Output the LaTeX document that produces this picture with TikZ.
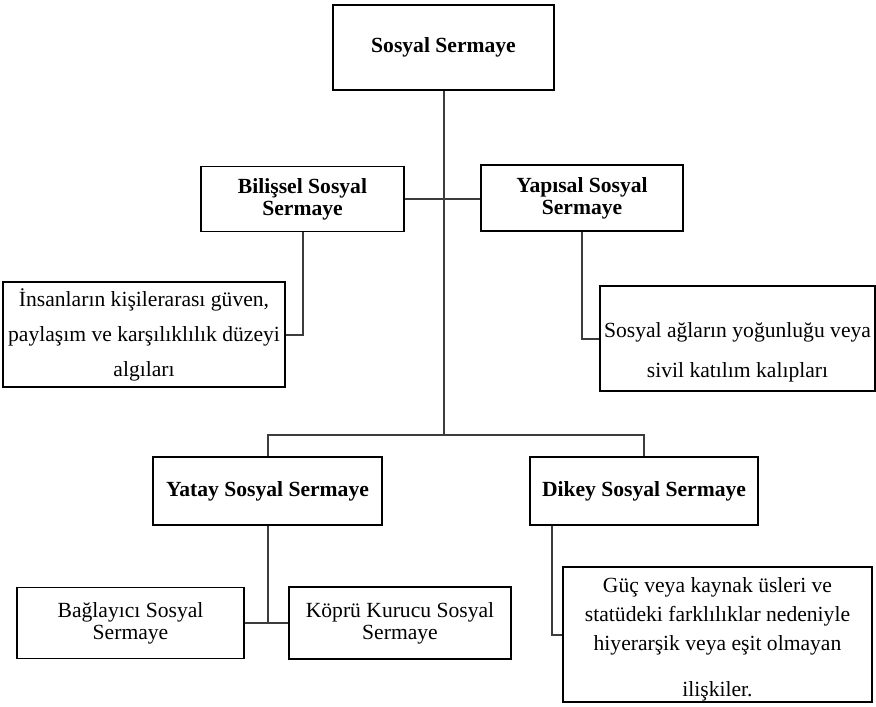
\documentclass[tikz,border=0pt]{standalone}
\usepackage{fontspec}
\setmainfont{Liberation Serif}
\usepackage{tikz}
\definecolor{linegray}{RGB}{60,60,60}

\tikzset{
	box/.style={draw=black,line width=0.7pt,inner sep=0pt,align=center,font=\fontsize{10.8}{11}\selectfont},
	head/.style={box,font=\bfseries\fontsize{10.8}{11}\selectfont},
	link/.style={draw=linegray,line width=1pt}
}

\begin{document}
\begin{tikzpicture}[x=0.5pt,y=-0.5pt]
	\useasboundingbox (0,0) rectangle (876,706);
	\node[head,minimum width=110.5pt,minimum height=42.5pt] (top) at (443.5,47.5) {Sosyal Sermaye};
	\node[head,minimum width=101.5pt,minimum height=32.5pt] (bil) at (302.5,199) {Bilişsel Sosyal\\Sermaye};
	\node[head,minimum width=101pt,minimum height=33pt] (yap) at (582,198) {Yapısal Sosyal\\Sermaye};
	\node[box,font=\fontsize{10.8}{17.5}\selectfont,minimum width=141pt,minimum height=52.5pt] (insan) at (144,334.5) {İnsanların kişilerarası güven,\\paylaşım ve karşılıklılık düzeyi\\algıları};
	\node[box,font=\fontsize{10.8}{20}\selectfont,minimum width=137.5pt,minimum height=52.5pt] (sosag) at (737.5,338.5) {\rule{0pt}{21.5pt}Sosyal ağların yoğunluğu veya\\sivil katılım kalıpları};
	\node[head,minimum width=114.5pt,minimum height=34pt] (yatay) at (267.5,491) {Yatay Sosyal Sermaye};
	\node[head,minimum width=114pt,minimum height=34pt] (dikey) at (644,491) {Dikey Sosyal Sermaye};
	\node[box,minimum width=113.5pt,minimum height=35.5pt] (bag) at (130.5,623) {Bağlayıcı Sosyal\\Sermaye};
	\node[box,minimum width=111pt,minimum height=36pt] (kopru) at (400,623) {Köprü Kurucu Sosyal\\Sermaye};
	\node[box,font=\fontsize{10.8}{14.5}\selectfont,minimum width=154.5pt,minimum height=67.5pt] (guc) at (717.5,634.5) {\rule{0pt}{12pt}Güç veya kaynak üsleri ve\\statüdeki farklılıklar nedeniyle\\hiyerarşik veya eşit olmayan\\[8.5pt]ilişkiler.};
	\coordinate (split) at (443.5,435);

	% connectors
	\draw[link] (top.south) -- (split);
	\draw[link] (bil.east) -- (bil.east -| yap.west);
	\draw[link] (yatay.north) |- (split) -| (dikey.north);
	\draw[link] (bil.south) |- (insan.east);
	\draw[link] (yap.south) |- (sosag.west);
	\draw[link] (yatay.south) -- (yatay.south |- bag.east);
	\draw[link] (bag.east) -- (kopru.west);
	\draw[link] ([xshift=11.5pt]dikey.south west) |- (guc.west);
\end{tikzpicture}
\end{document}
